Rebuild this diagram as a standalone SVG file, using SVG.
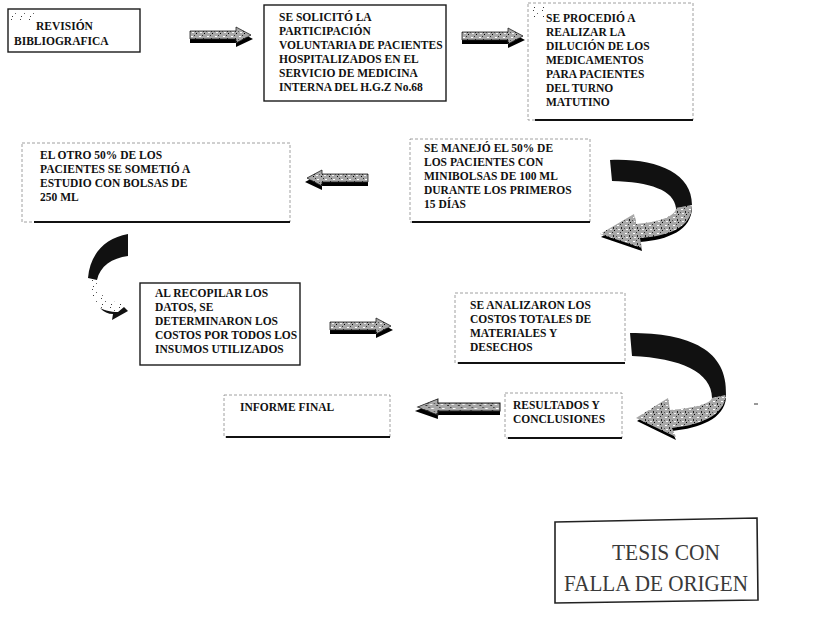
<svg xmlns="http://www.w3.org/2000/svg" width="830" height="620" viewBox="0 0 830 620">
<style>
.t{font-family:"Liberation Serif","Times New Roman",serif;font-weight:bold;font-size:11.5px;fill:#111}
.bs{fill:#fff;stroke:#1a1a1a;stroke-width:1.4}
.bd{fill:#fff;stroke:#888;stroke-width:0.8;stroke-dasharray:3 2}
.bb{stroke:#111;stroke-width:2.2;fill:none}
.st{font-family:"Liberation Serif","Times New Roman",serif;font-size:24px;fill:#3a3a3a}
.blk{fill:#111}
</style>
<defs>
<pattern id="spk" width="8" height="8" patternUnits="userSpaceOnUse">
<rect width="8" height="8" fill="#a8a8a8"/>
<rect x="1" y="1" width="2" height="1" fill="#fff"/>
<rect x="5" y="3" width="1" height="2" fill="#222"/>
<rect x="2" y="5" width="2" height="1" fill="#f2f2f2"/>
<rect x="6" y="6" width="1" height="1" fill="#000"/>
<rect x="4" y="0" width="1" height="1" fill="#333"/>
<rect x="0" y="4" width="1" height="1" fill="#555"/>
</pattern>
<pattern id="spk2" width="9" height="9" patternUnits="userSpaceOnUse">
<rect width="9" height="9" fill="#fff"/>
<rect x="2" y="1" width="1" height="1" fill="#444"/>
<rect x="6" y="4" width="1" height="1" fill="#666"/>
<rect x="3" y="7" width="1" height="1" fill="#333"/>
</pattern>
<g id="arrR">
<polygon points="0,7 46,7 46,3 63,12 46,20 46,16 0,16" fill="#000"/>
<polygon points="0,4 46,4 46,0 61,8 46,16 46,12 0,12" fill="url(#spk)" stroke="#222" stroke-width="0.8"/>
</g>
</defs>

<g id="connectors">
<use href="#arrR" x="190" y="27"/>
<use href="#arrR" x="462" y="28"/>
<use href="#arrR" transform="translate(368,170) scale(-1,1)"/>
<use href="#arrR" x="330" y="318"/>
<use href="#arrR" transform="translate(500,399) scale(-1.35,1)"/>
<g id="curve1">
<path d="M692,207 C692,230 668,240 640,242 L642,251 L601,237 L635,217 L636,227 C660,225 676,219 677,211 Z" fill="#000"/>
<path d="M692,205 C692,228 668,236 640,238 L642,248 L600,234 L634,214 L636,224 C660,222 676,216 676,208 Z" fill="url(#spk)"/>
<path d="M610,160 C655,158 692,172 692,205 L676,208 C674,190 650,182 612,181 Z" class="blk"/>
</g>
<g id="curve2">
<path d="M88,278 L97,280 C98,292 104,300 115,303 L114,297 L128,311 L112,320 L113,313 C98,310 88,296 88,278 Z" fill="url(#spk2)"/>
<path d="M100,308 C104,312 108,314 113,314 L112,320 L128,311 L124,307 L118,312 C110,312 104,310 100,308 Z" fill="#111"/>
<path d="M128,234 L128,256 C112,258 100,266 97,280 L88,278 C90,254 105,238 128,234 Z" class="blk"/>
</g>
<g id="curve3">
<path d="M726,398 C724,419 700,428 672,431 L676,440 L637,421 L668,401 L670,413 C694,411 710,407 712,401 Z" fill="#000"/>
<path d="M726,395 C724,416 700,425 672,428 L676,437 L636,418 L668,398 L670,410 C694,408 710,404 712,398 Z" fill="url(#spk)"/>
<path d="M630,333 C690,333 728,350 726,395 L712,398 C712,372 680,358 632,356 Z" class="blk"/>
</g>
</g>

<g id="n1">
<rect class="bs" x="8" y="9" width="132" height="43"/>
<rect x="10" y="11" width="24" height="11" fill="url(#spk2)"/>
<text class="t" x="36" y="30">REVISIÓN</text>
<text class="t" x="14" y="45">BIBLIOGRAFICA</text>
</g>
<g id="n2">
<rect class="bs" x="264" y="5" width="182" height="96"/>
<text class="t" x="279" y="21">SE SOLICITÓ LA</text>
<text class="t" x="279" y="35">PARTICIPACIÓN</text>
<text class="t" x="279" y="49">VOLUNTARIA DE PACIENTES</text>
<text class="t" x="279" y="63">HOSPITALIZADOS EN EL</text>
<text class="t" x="279" y="77">SERVICIO DE MEDICINA</text>
<text class="t" x="279" y="91">INTERNA DEL H.G.Z  No.68</text>
</g>
<g id="n3">
<rect class="bd" x="528" y="3" width="165" height="117"/>
<line class="bb" x1="535" y1="120" x2="693" y2="120"/>
<rect x="530" y="5" width="16" height="12" fill="url(#spk2)"/>
<text class="t" x="546" y="22">SE PROCEDIÓ A</text>
<text class="t" x="546" y="36">REALIZAR LA</text>
<text class="t" x="546" y="50">DILUCIÓN DE LOS</text>
<text class="t" x="546" y="64">MEDICAMENTOS</text>
<text class="t" x="546" y="78">PARA PACIENTES</text>
<text class="t" x="546" y="92">DEL TURNO</text>
<text class="t" x="546" y="106">MATUTINO</text>
</g>
<g id="n4">
<rect class="bd" x="22" y="143" width="268" height="79"/>
<line class="bb" x1="34" y1="222" x2="290" y2="222"/>
<text class="t" x="40" y="159">EL OTRO 50% DE LOS</text>
<text class="t" x="40" y="173">PACIENTES SE SOMETIÓ A</text>
<text class="t" x="40" y="187">ESTUDIO CON BOLSAS DE</text>
<text class="t" x="40" y="201">250 ML</text>
</g>
<g id="n5">
<rect class="bd" x="410" y="139" width="180" height="83"/>
<line class="bb" x1="412" y1="222" x2="590" y2="222"/>
<text class="t" x="424" y="152">SE MANEJÓ EL 50% DE</text>
<text class="t" x="424" y="166">LOS PACIENTES CON</text>
<text class="t" x="424" y="180">MINIBOLSAS DE 100 ML</text>
<text class="t" x="424" y="194">DURANTE LOS PRIMEROS</text>
<text class="t" x="424" y="208">15 DÍAS</text>
</g>
<g id="n6">
<rect class="bs" x="140" y="283" width="160" height="82"/>
<text class="t" x="155" y="297">AL RECOPILAR LOS</text>
<text class="t" x="155" y="311">DATOS,  SE</text>
<text class="t" x="155" y="325">DETERMINARON  LOS</text>
<text class="t" x="155" y="339">COSTOS POR TODOS LOS</text>
<text class="t" x="155" y="353">INSUMOS UTILIZADOS</text>
</g>
<g id="n7">
<rect class="bd" x="455" y="293" width="170" height="70"/>
<line class="bb" x1="458" y1="363" x2="625" y2="363"/>
<text class="t" x="470" y="309">SE ANALIZARON LOS</text>
<text class="t" x="470" y="323">COSTOS TOTALES DE</text>
<text class="t" x="470" y="337">MATERIALES Y</text>
<text class="t" x="470" y="351">DESECHOS</text>
</g>
<g id="n8">
<rect class="bd" x="505" y="393" width="117" height="45"/>
<line class="bb" x1="508" y1="438" x2="622" y2="438"/>
<text class="t" x="513" y="409">RESULTADOS Y</text>
<text class="t" x="513" y="423">CONCLUSIONES</text>
</g>
<g id="n9">
<rect class="bd" x="224" y="395" width="166" height="42"/>
<line class="bb" x1="226" y1="437" x2="390" y2="437"/>
<text class="t" x="240" y="411">INFORME FINAL</text>
</g>
<line x1="754" y1="404" x2="758" y2="404" stroke="#333" stroke-width="1"/>
<g id="stamp">
<polygon points="555,522 757,518 758,600 555,603" fill="#fff" stroke="#222" stroke-width="1.6"/>
<text class="st" x="612" y="560" textLength="108" lengthAdjust="spacingAndGlyphs">TESIS CON</text>
<text class="st" x="564" y="591" textLength="184" lengthAdjust="spacingAndGlyphs">FALLA DE ORIGEN</text>
</g>
</svg>
